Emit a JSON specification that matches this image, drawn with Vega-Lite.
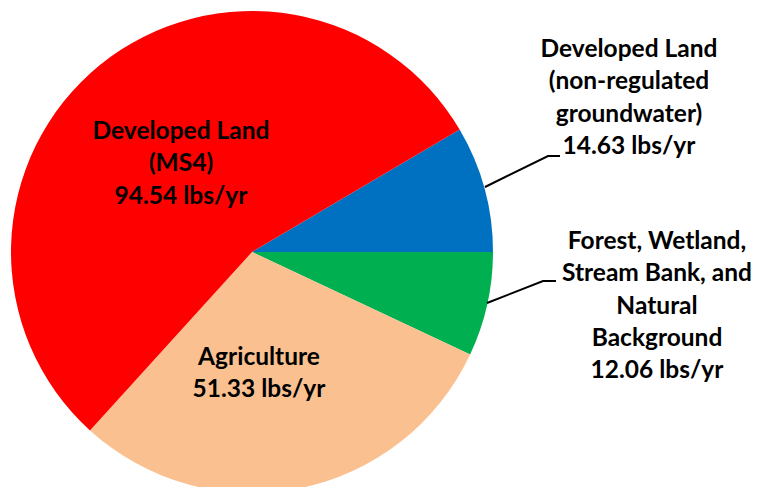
{
  "$schema": "https://vega.github.io/schema/vega-lite/v6.json",
  "width": 758,
  "height": 487,
  "autosize": {"type": "none"},
  "padding": 0,
  "background": "white",
  "config": {"view": {"stroke": null}},
  "datasets": {
    "slices": [
      {"source": "Developed Land (non-regulated groundwater)", "value": 14.63, "ord": 1},
      {"source": "Forest, Wetland, Stream Bank, and Natural Background", "value": 12.06, "ord": 2},
      {"source": "Agriculture", "value": 51.33, "ord": 3},
      {"source": "Developed Land (MS4)", "value": 94.54, "ord": 4}
    ],
    "labels": [
      {"label": "Developed Land\n(MS4)\n94.54 lbs/yr", "lx": -0.2946, "ly": 0.4979},
      {"label": "Agriculture\n51.33 lbs/yr", "lx": 0.029, "ly": -0.4398},
      {"label": "Developed Land\n(non-regulated\ngroundwater)\n14.63 lbs/yr", "lx": 1.5643, "ly": 0.8382},
      {"label": "Forest, Wetland,\nStream Bank, and\nNatural\nBackground\n12.06 lbs/yr", "lx": 1.6805, "ly": 0.0415}
    ],
    "leaders": [
      {"grp": "a", "k": 1, "px": 0.9668, "py": 0.2697},
      {"grp": "a", "k": 2, "px": 1.2282, "py": 0.3983},
      {"grp": "a", "k": 3, "px": 1.278, "py": 0.3983},
      {"grp": "b", "k": 1, "px": 0.9751, "py": -0.2116},
      {"grp": "b", "k": 2, "px": 1.2075, "py": -0.1203},
      {"grp": "b", "k": 3, "px": 1.2614, "py": -0.1203}
    ]
  },
  "layer": [
    {
      "data": {"name": "slices"},
      "mark": {"type": "arc", "radius": 241, "stroke": null},
      "encoding": {
        "x": {"datum": 0, "type": "quantitative", "scale": {"domain": [-1.04564, 2.09959], "nice": false, "zero": false}, "axis": null},
        "y": {"datum": 0, "type": "quantitative", "scale": {"domain": [-0.9751, 1.04564], "nice": false, "zero": false}, "axis": null},
        "theta": {"field": "value", "type": "quantitative", "stack": true, "scale": {"range": [1.03812, 7.32131]}},
        "order": {"field": "ord", "type": "quantitative"},
        "color": {
          "field": "source", "type": "nominal", "legend": null,
          "scale": {
            "domain": ["Developed Land (non-regulated groundwater)", "Forest, Wetland, Stream Bank, and Natural Background", "Agriculture", "Developed Land (MS4)"],
            "range": ["#0070C0", "#00B050", "#FAC090", "#FF0000"]
          }
        }
      }
    },
    {
      "data": {"name": "leaders"},
      "mark": {"type": "line", "color": "black", "strokeWidth": 2},
      "encoding": {
        "x": {"field": "px", "type": "quantitative", "scale": {"domain": [-1.04564, 2.09959], "nice": false, "zero": false}, "axis": null},
        "y": {"field": "py", "type": "quantitative", "scale": {"domain": [-0.9751, 1.04564], "nice": false, "zero": false}, "axis": null},
        "detail": {"field": "grp", "type": "nominal"},
        "order": {"field": "k", "type": "quantitative"}
      }
    },
    {
      "data": {"name": "labels"},
      "mark": {"type": "text", "lineBreak": "\n", "align": "center", "baseline": "middle", "font": "Lato", "fontWeight": "bold", "fontSize": 24.5, "lineHeight": 32.3, "color": "black"},
      "encoding": {
        "x": {"field": "lx", "type": "quantitative", "scale": {"domain": [-1.04564, 2.09959], "nice": false, "zero": false}, "axis": null},
        "y": {"field": "ly", "type": "quantitative", "scale": {"domain": [-0.9751, 1.04564], "nice": false, "zero": false}, "axis": null},
        "text": {"field": "label", "type": "nominal"}
      }
    }
  ]
}
